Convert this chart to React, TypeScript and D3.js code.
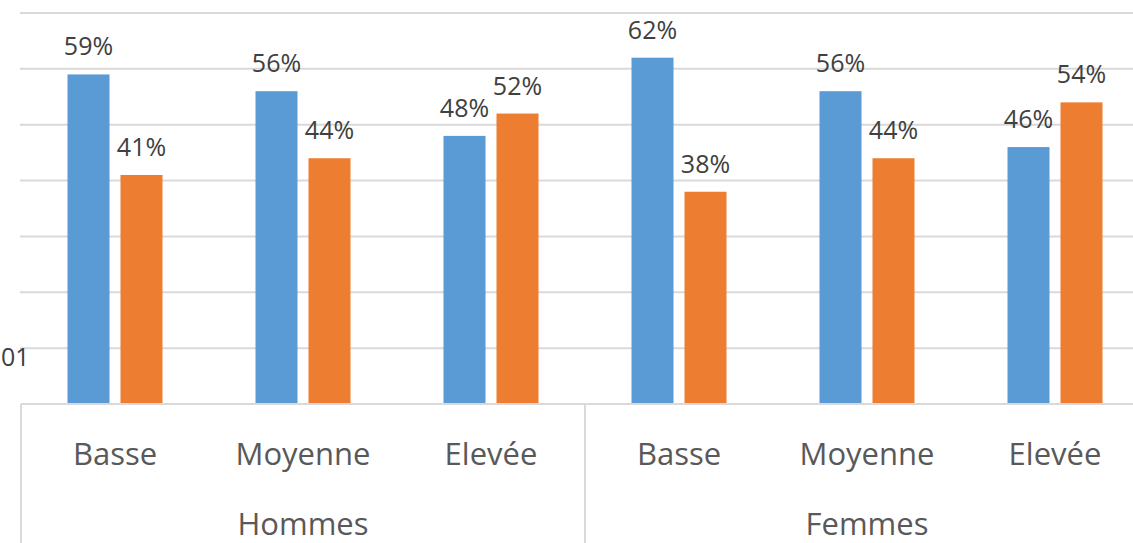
import React from 'react';
import * as d3 from 'd3';

const groups = ['Hommes', 'Femmes'];
const levels = ['Basse', 'Moyenne', 'Elevée'];
const seriesA = [59, 56, 48, 62, 56, 46];
const seriesB = [41, 44, 52, 38, 44, 54];
const yTicks = [0, 10, 20, 30, 40, 50, 60, 70];

const W = 1133;
const H = 543;
const left = 21;
const base = 404;
const band = 188;
const colours = ['#5B9BD5', '#ED7D31'];
const font = '"Open Sans", "Noto Sans", sans-serif';

export default function App() {
  const cats = groups.flatMap(g => levels.map(l => g + '|' + l));
  const x = d3.scaleBand().domain(cats).range([left, left + band * cats.length]);
  const y = d3.scaleLinear().domain([0, 70]).range([base, 13]);
  const barW = 42;
  const gap = 11;

  const bars = cats.map((c, i) => {
    const cx = (x(c) as number) + x.bandwidth() / 2;
    const vals = [seriesA[i], seriesB[i]];
    return vals.map((v, k) => {
      const bx = k === 0 ? cx - gap / 2 - barW : cx + gap / 2;
      return (
        <g key={c + k}>
          <rect x={bx} y={y(v)} width={barW} height={base - y(v)} fill={colours[k]} />
          <text x={bx + barW / 2} y={y(v) - 19} textAnchor="middle" fontSize={25} fill="#404040" fontFamily={font}>
            {v}%
          </text>
        </g>
      );
    });
  });

  return (
    <div style={{ position: 'fixed', left: 0, top: 0 }}>
      <svg width={W} height={H} style={{ display: 'block', background: '#fff' }}>
        {yTicks.slice(1).map(t => (
          <line key={t} x1={left - 1} x2={W} y1={y(t)} y2={y(t)} stroke="#D9D9D9" strokeWidth={2} />
        ))}
        <text x={1} y={366} fontSize={25} fill="#404040" fontFamily={font}>01</text>
        {bars}
        <line x1={left} x2={W} y1={base} y2={base} stroke="#D9D9D9" strokeWidth={2} />
        {[0, 1, 2].map(i => (
          <line key={i} x1={left + i * band * 3} x2={left + i * band * 3} y1={base} y2={H} stroke="#D9D9D9" strokeWidth={2} />
        ))}
        {cats.map((c, i) => (
          <text key={c} x={(x(c) as number) + x.bandwidth() / 2} y={465} textAnchor="middle" fontSize={31} fill="#595959" fontFamily={font}>
            {levels[i % 3]}
          </text>
        ))}
        {groups.map((g, i) => (
          <text key={g} x={left + band * 3 * i + band * 1.5} y={535} textAnchor="middle" fontSize={31} fill="#595959" fontFamily={font}>
            {g}
          </text>
        ))}
      </svg>
    </div>
  );
}
